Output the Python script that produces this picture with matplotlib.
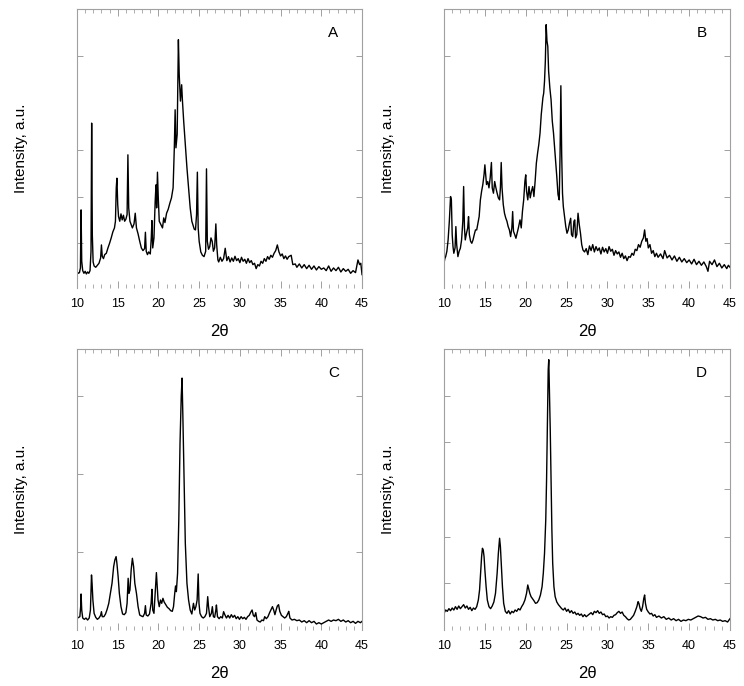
import matplotlib
matplotlib.use("Agg")
import matplotlib.pyplot as plt
from matplotlib.ticker import MultipleLocator

plt.rcParams['font.family'] = ['Liberation Sans', 'DejaVu Sans']

# ---------------- data (2theta, intensity in arbitrary units) ----------------
A_x = [10.0, 10.15, 10.3, 10.42, 10.5, 10.58, 10.7, 10.85, 11.0, 11.15, 11.3, 11.45, 11.6, 11.72, 11.8, 11.88,
       11.98, 12.1, 12.3, 12.5, 12.7, 12.9, 13.0, 13.1, 13.25, 13.4, 13.6, 13.8, 14.0, 14.2, 14.4, 14.6, 14.72,
       14.82, 14.9, 15.0, 15.1, 15.25, 15.4, 15.55, 15.7, 15.85, 16.0, 16.15, 16.25, 16.35, 16.5, 16.65, 16.8,
       17.0, 17.15, 17.3, 17.5, 17.7, 17.9, 18.1, 18.3, 18.4, 18.5, 18.65, 18.8, 19.0, 19.12, 19.2, 19.3, 19.45,
       19.6, 19.7, 19.78, 19.88, 19.98, 20.1, 20.3, 20.5, 20.65, 20.8, 21.0, 21.2, 21.4, 21.6, 21.8, 21.95, 22.05,
       22.15, 22.3, 22.45, 22.55, 22.7, 22.85, 22.95, 23.1, 23.3, 23.5, 23.7, 23.9, 24.1, 24.25, 24.4, 24.55,
       24.68, 24.78, 24.88, 25.0, 25.2, 25.4, 25.6, 25.8, 25.9, 26.0, 26.15, 26.3, 26.45, 26.6, 26.75, 26.9,
       27.05, 27.15, 27.3, 27.4, 27.6, 27.8, 28.0, 28.2, 28.4, 28.6, 28.8, 29.0, 29.2, 29.4, 29.6, 29.8, 30.0,
       30.2, 30.4, 30.6, 30.8, 31.0, 31.2, 31.4, 31.6, 31.8, 32.0, 32.2, 32.4, 32.6, 32.8, 33.0, 33.2, 33.4, 33.6,
       33.8, 34.0, 34.2, 34.4, 34.6, 34.8, 35.0, 35.2, 35.4, 35.6, 35.8, 36.0, 36.3, 36.5, 36.8, 37.0, 37.3, 37.6,
       37.9, 38.2, 38.5, 38.8, 39.1, 39.4, 39.7, 40.0, 40.3, 40.6, 40.9, 41.2, 41.5, 41.8, 42.1, 42.4, 42.7, 43.0,
       43.3, 43.6, 43.9, 44.2, 44.5, 44.7, 44.85, 45.0]
A_y = [49, 44, 46, 60, 234, 80, 52, 44, 50, 42, 48, 44, 52, 110, 494, 160,
       78, 66, 62, 68, 74, 90, 129, 95, 88, 100, 104, 120, 134, 150, 168, 180, 200,
       300, 329, 250, 214, 200, 222, 204, 218, 200, 206, 220, 399, 240, 200, 190, 180,
       192, 224, 180, 162, 140, 120, 112, 118, 167, 110, 100, 108, 102, 150, 202, 120, 150,
       260, 309, 240, 347, 270, 200, 190, 180, 210, 196, 224, 236, 254, 270, 300, 420, 534,
       420, 460, 744, 640, 560, 609, 560, 500, 430, 360, 300, 240, 200, 188, 176, 174,
       220, 347, 180, 140, 108, 98, 94, 110, 357, 140, 116, 124, 150, 140, 110, 120,
       192, 130, 84, 78, 92, 80, 88, 119, 82, 94, 78, 90, 80, 95, 82, 88, 76,
       92, 80, 86, 74, 88, 76, 82, 70, 74, 58, 70, 66, 80, 74, 88, 80, 94, 86,
       98, 92, 104, 112, 129, 108, 96, 102, 88, 96, 86, 94, 98, 70, 72, 62, 72, 60,
       70, 58, 68, 56, 66, 54, 64, 56, 60, 52, 66, 50, 60, 52, 62, 48, 58, 50,
       56, 44, 52, 46, 84, 70, 74, 40]

B_x = [10.0, 10.1, 10.2, 10.35, 10.5, 10.65, 10.8, 10.9, 11.0, 11.1, 11.2, 11.35, 11.45, 11.55, 11.7, 11.85,
       12.0, 12.15, 12.3, 12.4, 12.5, 12.6, 12.75, 12.9, 13.0, 13.1, 13.25, 13.4, 13.55, 13.7, 13.85, 14.0,
       14.15, 14.3, 14.45, 14.6, 14.75, 14.9, 15.0, 15.1, 15.2, 15.35, 15.5, 15.65, 15.8, 15.9, 16.05, 16.2,
       16.35, 16.5, 16.65, 16.8, 16.9, 17.0, 17.1, 17.25, 17.4, 17.55, 17.7, 17.85, 18.0, 18.15, 18.3, 18.4,
       18.5, 18.65, 18.8, 18.95, 19.1, 19.3, 19.45, 19.6, 19.75, 19.9, 20.0, 20.1, 20.25, 20.4, 20.55, 20.7,
       20.85, 21.0, 21.15, 21.3, 21.45, 21.6, 21.75, 21.9, 22.0, 22.1, 22.2, 22.3, 22.4, 22.5, 22.6, 22.7,
       22.8, 22.95, 23.1, 23.25, 23.4, 23.6, 23.8, 23.95, 24.1, 24.2, 24.3, 24.4, 24.5, 24.6, 24.75, 24.9,
       25.05, 25.2, 25.35, 25.5, 25.6, 25.75, 25.9, 26.0, 26.1, 26.25, 26.4, 26.55, 26.7, 26.85, 27.0,
       27.2, 27.4, 27.6, 27.8, 28.0, 28.2, 28.4, 28.6, 28.8, 29.0, 29.2, 29.4, 29.6, 29.8, 30.0, 30.2, 30.4,
       30.6, 30.8, 31.0, 31.2, 31.4, 31.6, 31.8, 32.0, 32.2, 32.4, 32.6, 32.8, 33.0, 33.2, 33.4, 33.6, 33.8,
       34.0, 34.2, 34.4, 34.55, 34.7, 34.85, 35.0, 35.2, 35.4, 35.6, 35.8, 36.0, 36.2, 36.5, 36.8, 37.0, 37.3,
       37.6, 37.9, 38.2, 38.5, 38.8, 39.1, 39.4, 39.7, 40.0, 40.3, 40.6, 40.9, 41.2, 41.5, 41.8, 42.1, 42.3,
       42.5, 42.8, 43.1, 43.4, 43.7, 44.0, 44.3, 44.6, 44.8, 45.0]
B_y = [74, 88, 94, 110, 144, 200, 274, 264, 160, 124, 104, 120, 184, 130, 94, 110,
       119, 144, 200, 304, 180, 144, 164, 180, 214, 160, 140, 134, 144, 160, 174, 174,
       194, 214, 264, 290, 310, 340, 369, 340, 310, 319, 300, 330, 376, 300, 284, 319,
       300, 284, 270, 264, 300, 376, 300, 250, 224, 210, 200, 184, 174, 154, 180, 229,
       170, 160, 149, 164, 180, 204, 180, 230, 264, 320, 339, 290, 264, 304, 270, 290,
       304, 274, 320, 374, 404, 430, 464, 520, 544, 570, 584, 620, 680, 789, 740, 724,
       650, 600, 564, 500, 464, 400, 334, 280, 264, 400, 606, 400, 284, 244, 214, 184,
       164, 174, 194, 209, 160, 154, 200, 204, 150, 160, 224, 190, 164, 130, 114,
       108, 118, 100, 126, 112, 130, 108, 124, 112, 120, 102, 122, 108, 118, 104, 124, 110,
       116, 98, 112, 102, 108, 92, 104, 88, 96, 82, 94, 92, 104, 98, 116, 112, 130,
       122, 140, 150, 174, 140, 148, 120, 130, 104, 112, 94, 104, 92, 102, 88, 112, 90,
       98, 84, 96, 80, 92, 78, 88, 76, 84, 72, 86, 70, 80, 68, 78, 64, 50,
       80, 70, 84, 64, 74, 60, 70, 58, 68, 62]

C_x = [10.0, 10.2, 10.35, 10.45, 10.5, 10.58, 10.7, 10.9, 11.1, 11.3, 11.5, 11.65, 11.78, 11.85, 11.95, 12.1,
       12.3, 12.5, 12.7, 12.9, 13.0, 13.1, 13.3, 13.5, 13.7, 13.9, 14.1, 14.3, 14.5, 14.65, 14.8, 14.9, 15.05,
       15.2, 15.4, 15.6, 15.8, 16.0, 16.15, 16.28, 16.38, 16.5, 16.65, 16.8, 16.95, 17.1, 17.3, 17.5, 17.7,
       17.9, 18.1, 18.3, 18.4, 18.5, 18.7, 18.9, 19.1, 19.2, 19.3, 19.45, 19.6, 19.75, 19.85, 19.95, 20.1,
       20.25, 20.4, 20.55, 20.7, 20.9, 21.1, 21.3, 21.5, 21.7, 21.85, 22.0, 22.1, 22.2, 22.35, 22.5, 22.65,
       22.8, 22.9, 23.0, 23.15, 23.3, 23.5, 23.7, 23.9, 24.1, 24.3, 24.45, 24.6, 24.75, 24.88, 24.98, 25.1,
       25.3, 25.5, 25.7, 25.9, 26.05, 26.15, 26.3, 26.5, 26.62, 26.75, 26.9, 27.05, 27.12, 27.25, 27.45,
       27.65, 27.85, 28.0, 28.15, 28.35, 28.55, 28.75, 28.95, 29.15, 29.35, 29.55, 29.75, 29.95, 30.15,
       30.35, 30.55, 30.75, 30.95, 31.15, 31.35, 31.5, 31.65, 31.8, 31.95, 32.1, 32.3, 32.5, 32.7, 32.9,
       33.05, 33.25, 33.45, 33.65, 33.85, 34.0, 34.15, 34.3, 34.45, 34.6, 34.75, 34.9, 35.1, 35.3, 35.5,
       35.7, 35.9, 36.0, 36.15, 36.4, 36.7, 37.0, 37.3, 37.6, 37.9, 38.2, 38.5, 38.8, 39.1, 39.4, 39.7,
       40.0, 40.3, 40.6, 40.9, 41.2, 41.5, 41.8, 42.1, 42.4, 42.7, 43.0, 43.3, 43.6, 43.9, 44.2, 44.5,
       44.8, 45.0]
C_y = [35, 38, 40, 70, 108, 60, 36, 32, 36, 30, 36, 60, 165, 140, 90, 50,
       38, 32, 36, 44, 55, 40, 40, 48, 62, 80, 110, 140, 190, 210, 220, 200, 160,
       110, 70, 48, 46, 52, 80, 155, 110, 120, 180, 215, 190, 140, 110, 70, 45,
       42, 40, 50, 73, 45, 42, 48, 80, 122, 60, 50, 110, 172, 130, 90, 70,
       90, 80, 95, 84, 76, 68, 64, 58, 56, 70, 110, 132, 115, 170, 330, 560,
       700, 755, 640, 450, 260, 140, 90, 60, 48, 80, 60, 70, 90, 168, 80, 50,
       40, 36, 40, 50, 100, 70, 40, 50, 70, 40, 38, 60, 75, 40, 34,
       40, 36, 55, 46, 36, 44, 36, 46, 38, 44, 34, 40, 32, 40,
       34, 38, 32, 40, 44, 54, 60, 44, 40, 52, 30, 26, 24, 30, 28,
       40, 34, 40, 52, 62, 70, 60, 46, 60, 72, 76, 56, 44, 40, 36,
       40, 50, 56, 36, 30, 32, 28, 30, 24, 28, 22, 28, 22, 26, 18, 22,
       18, 22, 26, 30, 26, 30, 28, 32, 26, 30, 24, 28, 22, 26, 20, 26,
       22, 26]

D_x = [10.0, 10.2, 10.4, 10.6, 10.8, 11.0, 11.2, 11.4, 11.6, 11.8, 12.0, 12.2, 12.4, 12.6, 12.8, 13.0, 13.2,
       13.4, 13.6, 13.8, 14.0, 14.2, 14.35, 14.5, 14.6, 14.7, 14.8, 14.9, 15.0, 15.15, 15.3, 15.5, 15.7, 15.9,
       16.1, 16.3, 16.5, 16.65, 16.8, 16.9, 17.0, 17.15, 17.3, 17.5, 17.7, 17.9, 18.1, 18.3, 18.5, 18.7, 18.9,
       19.1, 19.3, 19.5, 19.7, 19.9, 20.1, 20.25, 20.35, 20.5, 20.65, 20.8, 21.0, 21.2, 21.4, 21.6, 21.8, 22.0,
       22.15, 22.3, 22.45, 22.55, 22.65, 22.75, 22.82, 22.9, 23.0, 23.1, 23.2, 23.3, 23.45, 23.6, 23.8, 24.0,
       24.2, 24.4, 24.6, 24.8, 25.0, 25.2, 25.4, 25.6, 25.8, 26.0, 26.2, 26.4, 26.6, 26.8, 27.0, 27.2, 27.4,
       27.6, 27.8, 28.0, 28.2, 28.4, 28.6, 28.8, 29.0, 29.2, 29.4, 29.6, 29.8, 30.0, 30.2, 30.4, 30.6, 30.8,
       31.0, 31.2, 31.4, 31.6, 31.8, 32.0, 32.2, 32.4, 32.6, 32.8, 33.0, 33.2, 33.4, 33.6, 33.75, 33.85, 34.0,
       34.15, 34.3, 34.45, 34.55, 34.65, 34.8, 35.0, 35.2, 35.4, 35.6, 35.8, 36.0, 36.3, 36.6, 36.9, 37.2,
       37.5, 37.8, 38.1, 38.4, 38.7, 39.0, 39.3, 39.6, 39.9, 40.2, 40.5, 40.8, 41.1, 41.4, 41.7, 42.0, 42.3,
       42.6, 42.9, 43.2, 43.5, 43.8, 44.1, 44.4, 44.7, 45.0]
D_y = [50, 60, 56, 64, 58, 66, 60, 70, 62, 72, 64, 70, 76, 66, 72, 62, 68,
       58, 66, 62, 70, 90, 120, 180, 220, 245, 240, 220, 180, 130, 90, 70, 64, 72,
       84, 110, 170, 230, 275, 250, 200, 130, 80, 56, 50, 58, 48, 56, 52, 60, 56,
       64, 60, 70, 78, 90, 110, 135, 125, 110, 100, 95, 88, 80, 82, 90, 105, 130,
       170, 230, 330, 450, 620, 780, 810, 720, 600, 440, 300, 200, 130, 100, 84, 76,
       70, 64, 60, 66, 56, 62, 52, 58, 50, 54, 46, 50, 44, 48, 40, 46, 40,
       44, 48, 52, 46, 56, 52, 58, 50, 54, 46, 48, 40, 42, 36, 40, 38, 44,
       46, 52, 56, 50, 54, 44, 40, 34, 30, 32, 38, 44, 56, 70, 85, 80, 64,
       56, 70, 95, 105, 80, 62, 54, 48, 50, 42, 46, 38, 42, 36, 40, 32,
       36, 30, 34, 28, 32, 26, 30, 28, 32, 30, 34, 38, 42, 40, 36, 38, 32,
       34, 30, 32, 28, 30, 26, 28, 24, 34]

panels = [
    ("A", A_x, A_y, [0.1035, 0.5802, 0.3831, 0.4067], 836, [134, 274, 414, 696]),
    ("B", B_x, B_y, [0.5968, 0.5802, 0.3844, 0.4067], 836, [134, 274, 414, 696]),
    ("C", C_x, C_y, [0.1035, 0.0816, 0.3831, 0.4096], 842, [233, 467, 702]),
    ("D", D_x, D_y, [0.5968, 0.0816, 0.3844, 0.4096], 842, [140, 280, 422, 562, 702]),
]
x_major = [10, 15, 20, 25, 30, 35, 40, 45]

fig = plt.figure(figsize=(7.44, 6.86), dpi=100)
frame_col = '#a0a0a0'
for letter, xs, ys, rect, ytop, yticks in panels:
    ax = fig.add_axes(rect)
    ax.plot(xs, ys, color='black', lw=1.0)
    ax.set_xlim(10, 45)
    ax.set_ylim(0, ytop)
    ax.set_xticks(x_major)
    ax.xaxis.set_minor_locator(MultipleLocator(1))
    ax.set_yticks(yticks)
    ax.set_yticklabels([])
    for s in ['left', 'right', 'top']:
        ax.spines[s].set_color(frame_col)
        ax.spines[s].set_linewidth(0.8)
    ax.spines['bottom'].set_visible(False)
    ax.tick_params(axis='x', which='both', direction='in', top=True, bottom=True,
                   colors=frame_col, labelcolor='black', labelsize=9, pad=7)
    ax.tick_params(axis='x', which='major', length=5, width=0.7)
    ax.tick_params(axis='x', which='minor', length=3, width=0.6)
    ax.tick_params(axis='y', which='both', direction='in', left=True, right=True,
                   colors=frame_col, length=4, width=0.7)
    ax.set_xlabel('2θ', fontsize=12, labelpad=10)
    ax.set_ylabel('Intensity, a.u.', fontsize=11, labelpad=32)
    ax.text(0.90, 0.915, letter, transform=ax.transAxes, fontsize=11,
            ha='center', va='center')

fig.savefig('out.png', dpi=100)
